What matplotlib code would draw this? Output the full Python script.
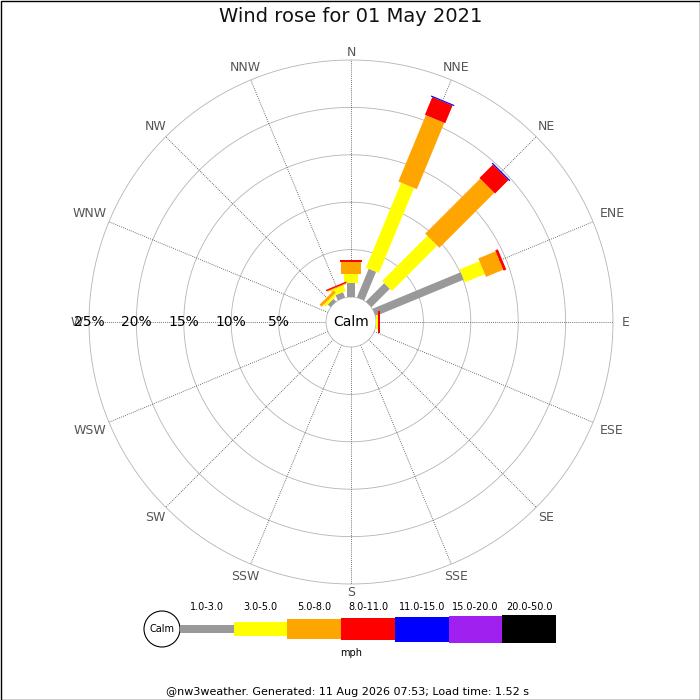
import numpy as np
import matplotlib
matplotlib.use("Agg")
import matplotlib.pyplot as plt
from matplotlib.patches import Circle, Rectangle

# data: % of time per direction, split by speed class (mph)
directions = ["N", "NNE", "NE", "ENE", "E", "ESE", "SE", "SSE",
              "S", "SSW", "SW", "WSW", "W", "WNW", "NW", "NNW"]
speed_classes = ["1.0-3.0", "3.0-5.0", "5.0-8.0", "8.0-11.0",
                 "11.0-15.0", "15.0-20.0", "20.0-50.0"]
class_colors = ["#999999", "#ffff00", "#ffa500", "#ff0000",
                "#0000ff", "#a020f0", "#000000"]

# rows follow `directions`, columns follow `speed_classes`
freq = np.zeros((16, 7))
freq[0] = [1.44, 0.95, 1.33, 0.15, 0, 0, 0]    # N
freq[1] = [3.27, 9.70, 7.57, 2.02, 0.12, 0, 0]  # NNE
freq[2] = [2.74, 6.75, 8.20, 2.00, 0.12, 0, 0]  # NE
freq[3] = [10.07, 2.27, 1.97, 0.30, 0, 0, 0]    # ENE
freq[4] = [0.05, 0.15, 0.05, 0.15, 0, 0, 0]     # E
freq[14] = [0.40, 0.30, 0.30, 0, 0, 0, 0]       # NW
freq[15] = [0.60, 0.65, 0.10, 0.15, 0, 0, 0]    # NNW

ring_ticks = [5, 10, 15, 20, 25]
title = "Wind rose for 01 May 2021"
footer = "@nw3weather. Generated: 11 Aug 2026 07:53; Load time: 1.52 s"

# geometry (pixels in a 700x700 figure)
W = H = 700
cx, cy = 351, 322
r_out, r_calm = 262, 25
px_per_pct = (r_out - r_calm) / ring_ticks[-1]
bar_px = [8, 14, 20, 22, 25, 27, 28]   # bar thickness per class

fig = plt.figure(figsize=(7, 7), dpi=100)
fig.patch.set_facecolor("white")

ax = fig.add_axes([(cx - r_out) / W, (H - cy - r_out) / H, 2 * r_out / W, 2 * r_out / H],
                  projection="polar")
ax.set_theta_zero_location("N")
ax.set_theta_direction(-1)
ax.set_ylim(0, ring_ticks[-1])
ax.set_rorigin(-r_calm / px_per_pct)

angles = np.deg2rad(np.arange(16) * 22.5)
ax.set_xticks(angles)
ax.set_xticklabels([])
ax.set_yticks(ring_ticks)
ax.set_yticklabels([])
ax.tick_params(length=0)
ax.grid(False)

# rings and spokes
th = np.linspace(0, 2 * np.pi, 400)
for r in ring_ticks:
    ax.plot(th, np.full_like(th, r), color="#b4b4b4", lw=0.6, zorder=1, clip_on=False)
for a in angles:
    ax.plot([a, a], [0, ring_ticks[-1]], color="#444444", lw=0.6,
            linestyle=(0, (1, 1.5)), zorder=1)
for name, sp in ax.spines.items():
    if name == "inner":
        sp.set_color("#b4b4b4")
        sp.set_linewidth(0.6)
    else:
        sp.set_visible(False)

# bars
for i, a in enumerate(angles):
    start = 0.0
    for k, v in enumerate(freq[i]):
        if v <= 0:
            continue
        ax.plot([a, a], [start, start + v], color=class_colors[k],
                lw=bar_px[k] * 0.72, solid_capstyle="butt", zorder=3 + k)
        start += v

# direction labels
for name, a in zip(directions, angles):
    half_w = 4.5 * len(name)
    rp = 270 + half_w * abs(np.sin(a))
    ax.text(a, (rp - r_calm) / px_per_pct, name, ha="center", va="center",
            fontsize=9, color="#555555", clip_on=False)

# percentage labels along W
for r in ring_ticks:
    ax.text(np.deg2rad(270), r, f"{r}%", ha="center", va="center",
            fontsize=10, color="black", zorder=10)

ax.text(0.5, 0.5, "Calm", transform=ax.transAxes, ha="center", va="center",
        fontsize=10, color="black", zorder=10)

# overlay for title, legend and footer (pixel coords)
ov = fig.add_axes([0, 0, 1, 1])
ov.set_xlim(0, W)
ov.set_ylim(H, 0)
ov.axis("off")
ov.patch.set_alpha(0)

ov.text(351, 17, title, ha="center", va="center", fontsize=14, color="#111111")
ov.add_patch(Rectangle((0.5, 0.5), W - 1, H - 1, fill=False, ec="black", lw=1))

leg_x0, leg_w, leg_y = 180, 53.7, 629
ov.add_patch(Circle((162, leg_y), 18, fill=False, ec="black", lw=0.8))
ov.text(162, leg_y, "Calm", ha="center", va="center", fontsize=7)
for k, (lab, col) in enumerate(zip(speed_classes, class_colors)):
    ov.bar(leg_x0 + k * leg_w, bar_px[k], width=leg_w, bottom=leg_y - bar_px[k] / 2,
           align="edge", color=col, edgecolor="none")
    ov.text(leg_x0 + (k + 0.5) * leg_w, 607, lab, ha="center", va="center", fontsize=7)
ov.text(351, 653, "mph", ha="center", va="center", fontsize=7)

ov.text(348, 692, footer, ha="center", va="center", fontsize=8)

fig.savefig("out.png", dpi=100)
